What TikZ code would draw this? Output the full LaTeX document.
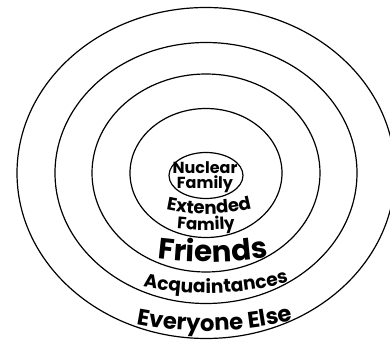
\documentclass[tikz,border=0pt]{standalone}
\usepackage{fontspec}
\usepackage{tikz}
\usetikzlibrary{calc,decorations.text}
\newfontfamily\ringfont{Poppins}[BoldFont=* Bold]

\begin{document}
\begin{tikzpicture}[x=0.75pt, y=0.75pt,
  ring/.style={draw=black, line width=0.9pt},
  curved/.style={decorate, decoration={text along path, text align=center, text={#1}}}]
  \useasboundingbox (0,0) rectangle (390,343);
  \coordinate (c) at (206,170);
  % rings, outermost first
  \foreach \rx/\ry in {189/165.5, 151/130.5, 114/99, 76/64.5}
    \draw[ring] (c) ellipse [x radius=\rx, y radius=\ry];
  \draw[ring] (206,167.5) ellipse [x radius=37, y radius=23];
  \node[font=\ringfont\bfseries\fontsize{12}{11.5}\selectfont, align=center, inner sep=0pt]
    (nuclear) at (205,166) {Nuclear\\Family};
  % labels along the lower halves of the rings
  \path[curved={|\ringfont\bfseries\fontsize{13.5}{13.5}\selectfont|Extended}]
    ($(c)+(213:90 and 41)$) arc [start angle=213, end angle=333, x radius=90, y radius=41];
  \path[curved={|\ringfont\bfseries\fontsize{12.5}{12.5}\selectfont|Family}]
    ($(c)+(210:130 and 57)$) arc [start angle=210, end angle=330, x radius=130, y radius=57];
  \path[curved={|\ringfont\bfseries\fontsize{22}{22}\selectfont|Friends}]
    ($(c)+(222.9:185 and 89)$) arc [start angle=222.9, end angle=322.9, x radius=185, y radius=89];
  \path[curved={|\ringfont\bfseries\fontsize{14}{14}\selectfont|Acquaintances}]
    ($(c)+(218.9:198 and 120)$) arc [start angle=218.9, end angle=328.9, x radius=198, y radius=120];
  \path[curved={|\ringfont\bfseries\fontsize{17}{17}\selectfont|Everyone Else}]
    ($(c)+(222.6:242 and 158)$) arc [start angle=222.6, end angle=322.6, x radius=242, y radius=158];
\end{tikzpicture}
\end{document}
